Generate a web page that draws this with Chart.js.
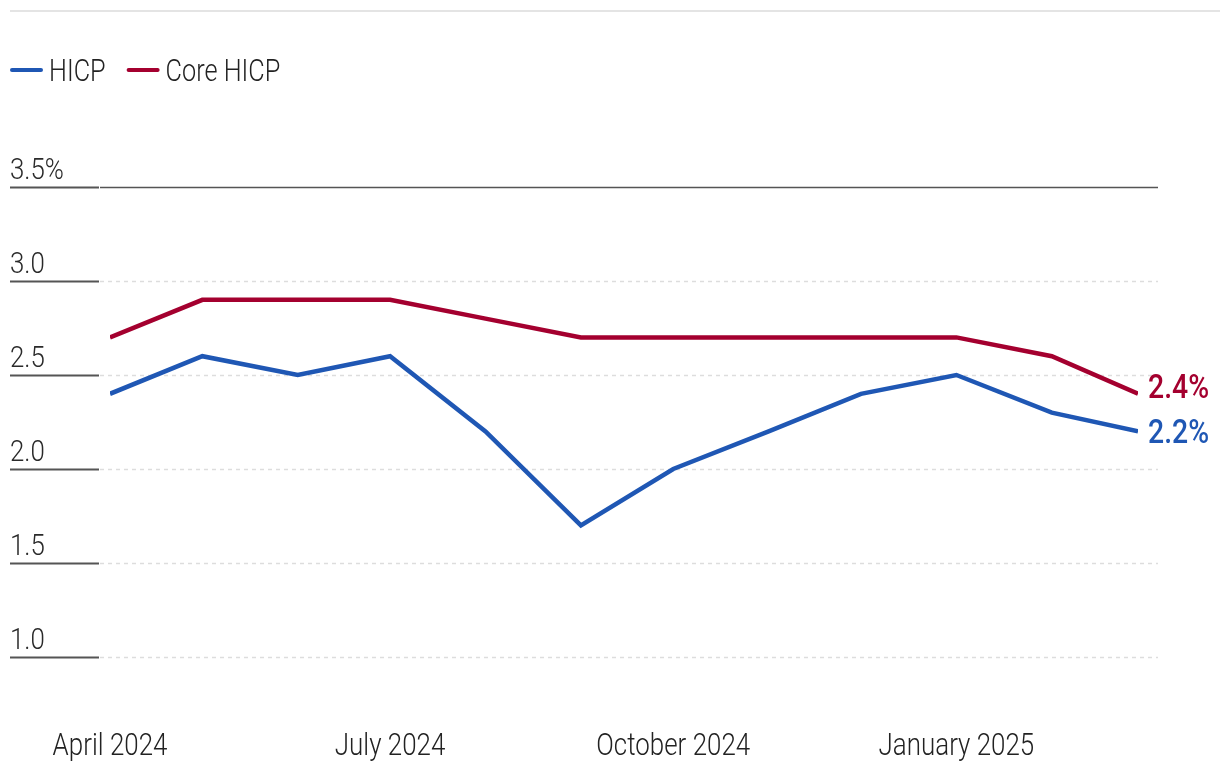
<!DOCTYPE html>
<html>
<head>
<meta charset="utf-8">
<script src="https://cdn.jsdelivr.net/npm/chart.js@4/dist/chart.umd.min.js"></script>
<style>
  html, body { margin: 0; padding: 0; background: #ffffff; }
  canvas { display: block; }
</style>
</head>
<body>
<canvas id="inflationChart" width="1220" height="776"></canvas>
<script>
// Euro area inflation, y/y %, monthly (first of month)
const months = [
  "2024-04-01", "2024-05-01", "2024-06-01", "2024-07-01", "2024-08-01", "2024-09-01",
  "2024-10-01", "2024-11-01", "2024-12-01", "2025-01-01", "2025-02-01", "2025-03-01"
];
const hicp = [2.4, 2.6, 2.5, 2.6, 2.2, 1.7, 2.0, 2.2, 2.4, 2.5, 2.3, 2.2];
const coreHicp = [2.7, 2.9, 2.9, 2.9, 2.8, 2.7, 2.7, 2.7, 2.7, 2.7, 2.6, 2.4];
const yTicks = [1.0, 1.5, 2.0, 2.5, 3.0, 3.5];
const xTickDates = ["2024-04-01", "2024-07-01", "2024-10-01", "2025-01-01"];
const xTickLabels = ["April 2024", "July 2024", "October 2024", "January 2025"];

const FONT = "Roboto, 'Noto Sans', sans-serif";
const BLUE = "#1f57b4";
const RED = "#a4002f";

const toTime = (d) => Date.parse(d + "T00:00:00Z");
const pairs = (vals) => vals.map((v, i) => ({ x: toTime(months[i]), y: v }));

// condensed look: squeeze text horizontally
function drawText(ctx, text, x, y, font, sx, align) {
  ctx.save();
  ctx.translate(x, y);
  ctx.scale(sx, 1);
  ctx.font = font;
  ctx.textAlign = align || "left";
  ctx.textBaseline = "alphabetic";
  ctx.fillText(text, 0, 0);
  ctx.restore();
}

// Grid lines, axis labels, legend, end labels
const decorPlugin = {
  id: "decor",
  beforeDatasetsDraw(chart) {
    const ctx = chart.ctx;
    const y = chart.scales.y;
    const x = chart.scales.x;
    ctx.save();
    // top rule
    ctx.strokeStyle = "#e4e4e4";
    ctx.lineWidth = 2;
    ctx.beginPath();
    ctx.moveTo(10, 11);
    ctx.lineTo(1220, 11);
    ctx.stroke();

    yTicks.forEach((v, i) => {
      const py = Math.round(y.getPixelForValue(v)) + 0.5;
      const isTop = i === yTicks.length - 1;
      ctx.setLineDash(isTop ? [] : [4, 4]);
      ctx.strokeStyle = isTop ? "#555555" : "#dddddd";
      ctx.lineWidth = isTop ? 1.4 : 1.5;
      ctx.beginPath();
      ctx.moveTo(100, py);
      ctx.lineTo(1158, py);
      ctx.stroke();
      ctx.setLineDash([]);
      ctx.strokeStyle = "#555555";
      ctx.lineWidth = 2.2;
      ctx.beginPath();
      ctx.moveTo(10, py);
      ctx.lineTo(99, py);
      ctx.stroke();
      ctx.fillStyle = "#2a2a2a";
      drawText(ctx, isTop ? v.toFixed(1) + "%" : v.toFixed(1), 10, py - 9, "300 30px " + FONT, 0.86);
    });

    // x labels
    ctx.fillStyle = "#222222";
    xTickDates.forEach((d, i) => {
      drawText(ctx, xTickLabels[i], x.getPixelForValue(toTime(d)), 755, "300 32px " + FONT, 0.81, "center");
    });
    ctx.restore();
  },
  afterDatasetsDraw(chart) {
    const ctx = chart.ctx;
    ctx.save();
    // legend
    let lx = 10;
    chart.data.datasets.forEach((ds) => {
      ctx.strokeStyle = ds.borderColor;
      ctx.lineWidth = 4;
      ctx.lineCap = "round";
      ctx.beginPath();
      ctx.moveTo(lx + 2, 70);
      ctx.lineTo(lx + 31, 70);
      ctx.stroke();
      ctx.fillStyle = "#222222";
      const font = "300 32px " + FONT;
      drawText(ctx, ds.label, lx + 39, 81, font, 0.79);
      ctx.font = font;
      lx += 39 + ctx.measureText(ds.label).width * 0.79 + 21;
    });
    // end value labels
    chart.data.datasets.forEach((ds, i) => {
      const meta = chart.getDatasetMeta(i);
      const last = meta.data[meta.data.length - 1];
      const val = ds.data[ds.data.length - 1].y;
      ctx.fillStyle = ds.borderColor;
      drawText(ctx, val.toFixed(1) + "%", last.x + 10, last.y + (i === 1 ? 4 : 12), "500 33px " + FONT, 0.86);
    });
    ctx.restore();
  }
};

const ctx = document.getElementById("inflationChart").getContext("2d");
new Chart(ctx, {
  type: "line",
  data: {
    datasets: [
      {
        label: "HICP",
        data: pairs(hicp),
        borderColor: BLUE,
        borderWidth: 4.5,
        pointRadius: 0,
        tension: 0,
      },
      {
        label: "Core HICP",
        data: pairs(coreHicp),
        borderColor: RED,
        borderWidth: 4.5,
        pointRadius: 0,
        tension: 0,
      },
    ],
  },
  options: {
    responsive: false,
    animation: false,
    layout: {
      padding: { left: 110, right: 82, top: 187, bottom: 119 },
    },
    plugins: {
      legend: { display: false },
      tooltip: { enabled: false },
    },
    scales: {
      y: { display: false, min: 1.0, max: 3.5 },
      x: {
        type: "linear",
        display: false,
        min: toTime(months[0]),
        max: toTime(months[months.length - 1]),
      },
    },
  },
  plugins: [decorPlugin],
});
</script>
</body>
</html>
